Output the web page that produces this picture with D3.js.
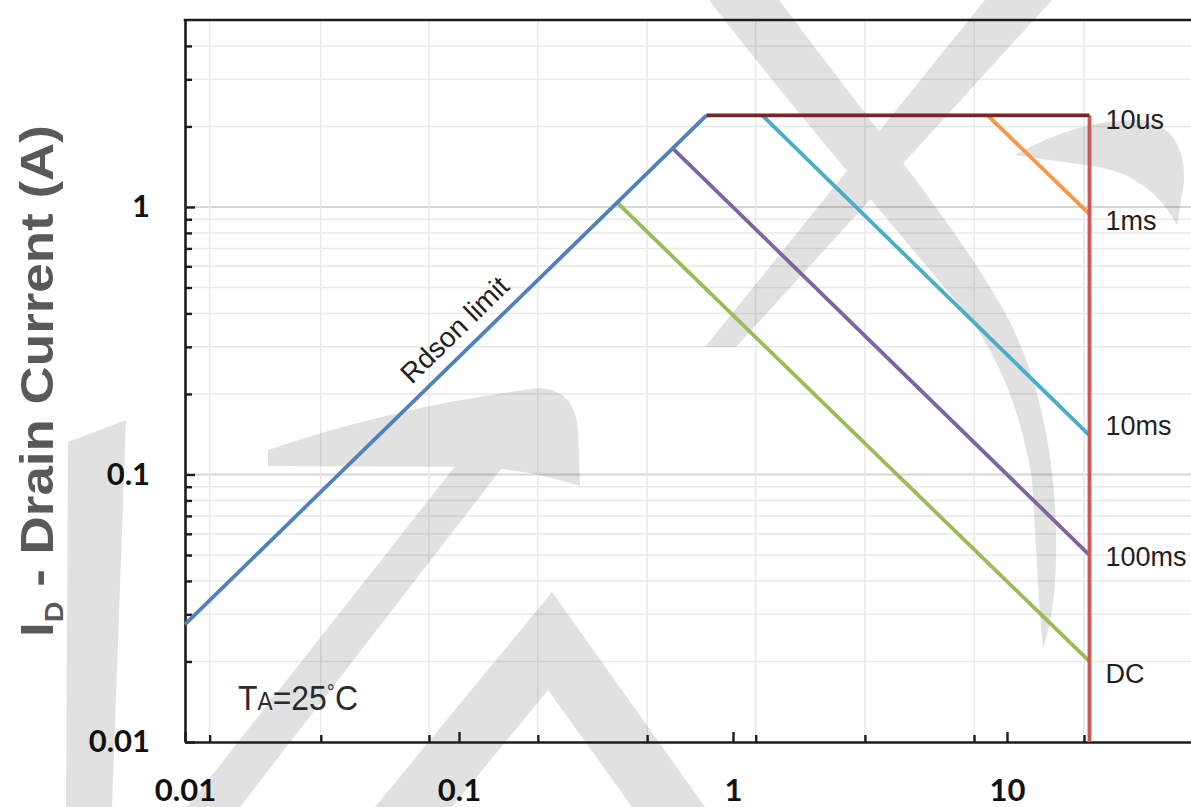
<!DOCTYPE html>
<html>
<head>
<meta charset="utf-8">
<script src="https://cdn.jsdelivr.net/npm/d3@7"></script>
<style>
  html, body { margin: 0; padding: 0; background: #fff; }
  svg { display: block; }
</style>
</head>
<body>
<svg id="chart" width="1191" height="807"></svg>
<script>
// Safe operating area: drain current vs drain-source voltage (log-log)

// Axis ticks
const xMajorTicks = [0.01, 0.1, 1, 10];
const xMajorLabels = ["0.01", "0.1", "1", "10"];
const xMinorTicks = [0.0123, 0.0313, 0.0777, 0.194, 0.486, 1.21, 3.03, 7.58, 19.1];
const yMajorTicks = [0.01, 0.1, 1];
const yMajorLabels = ["0.01", "0.1", "1"];
const yMinorTicks = [0.02, 0.03, 0.04, 0.05, 0.06, 0.07, 0.08, 0.09,
                     0.2, 0.3, 0.4, 0.5, 0.6, 0.7, 0.8, 0.9, 2, 3, 4];

// On-resistance limit (V, A)
const rdsonV = [0.01, 0.8];
const rdsonI = [0.0275, 2.2];

// Pulse-width limit lines, each from a start point to the 20 V boundary
const pulseNames  = ["10us", "1ms", "10ms", "100ms", "DC"];
const limitStartV = [0.8, 8.5, 1.28, 0.605, 0.377];
const limitStartI = [2.2, 2.2, 2.2, 1.65, 1.04];
const limitEndV   = [20, 20, 20, 20, 20];
const limitEndI   = [2.2, 0.94, 0.14, 0.05, 0.02];
const pulseColors = ["#7d2427", "#f79646", "#4bacc6", "#8064a2", "#9bbb59"];

// Maximum drain-source voltage boundary
const vdsMaxV = [20, 20];
const vdsMaxI = [2.2, 0.01];

const W = 1191, H = 807;
const plot = { left: 185, top: 20, bottom: 742 };
const decadePx = 274;

const svg = d3.select("#chart");
const x = d3.scaleLog().domain([0.01, 50]).range([plot.left, plot.left + decadePx * Math.log10(5000)]);
const y = d3.scaleLog().domain([0.01, 5]).range([plot.bottom, plot.top]);

svg.append("rect").attr("width", W).attr("height", H).attr("fill", "#fff");

// Grid
const grid = svg.append("g");
const yGridVals = yMinorTicks.concat([0.1, 1]);
grid.selectAll("line.gh").data(yGridVals).join("line").attr("class", "gh")
  .attr("x1", plot.left).attr("x2", W)
  .attr("y1", d => y(d)).attr("y2", d => y(d))
  .attr("stroke", d => (d === 0.1 || d === 1) ? "#d6d6d6" : "#e9e9e9")
  .attr("stroke-width", d => (d === 0.1 || d === 1) ? 2.2 : 1.5);
grid.selectAll("line.gv").data(xMinorTicks).join("line").attr("class", "gv")
  .attr("x1", d => x(d)).attr("x2", d => x(d))
  .attr("y1", plot.top).attr("y2", plot.bottom)
  .attr("stroke", "#e9e9e9").attr("stroke-width", 1.5);

// Background logo shapes
const logoShapes = [
  "M68,442 L126,420 L112,807 L66,807 Z",
  "M187,807 L240,807 L512,455 L464,455 Z",
  "M268,450 Q400,405 540,388 Q575,390 578,430 L580,486 Q530,470 478,467 L268,466 Z",
  "M375,807 L552,592 L705,807 L632,807 L548,690 L452,807 Z",
  "M985,0 L1052,0 L736,347 L705,347 Z",
  "M709,0 L779,0 C880,135 960,230 1008,318 C1045,390 1058,480 1056,560 C1055,600 1050,630 1043,648 C1038,600 1036,540 1032,480 C1020,400 990,340 955,300 C880,210 790,105 709,0 Z",
  "M1015,155 Q1080,118 1142,120 Q1186,128 1184,182 L1177,225 Q1152,178 1100,167 Q1050,160 1015,155 Z"
];
svg.append("g").attr("opacity", 0.115)
  .selectAll("path").data(logoShapes).join("path")
  .attr("d", d => d).attr("fill", "#000");

// Axes with inward ticks
const axisColor = "#1c1c1c";
function styleAxis(g) {
  g.selectAll(".domain").attr("stroke", axisColor).attr("stroke-width", 2.6);
  g.selectAll(".tick line").attr("stroke", axisColor).attr("stroke-width", 2.4);
  g.selectAll(".tick text")
    .attr("font-family", "Lato, 'Open Sans', sans-serif")
    .attr("font-weight", 700).attr("font-size", 31).attr("fill", "#111");
}

const yMinorAxis = svg.append("g").attr("transform", `translate(${plot.left},0)`)
  .call(d3.axisLeft(y).tickValues(yMinorTicks).tickFormat("").tickSize(-7).tickSizeOuter(0));
yMinorAxis.select(".domain").remove();
styleAxis(yMinorAxis);

const yMajorAxis = svg.append("g").attr("transform", `translate(${plot.left},0)`)
  .call(d3.axisLeft(y).tickValues(yMajorTicks)
    .tickFormat((d, i) => yMajorLabels[i]).tickSize(-10).tickSizeOuter(0).tickPadding(35));
styleAxis(yMajorAxis);

const xMinorAxis = svg.append("g").attr("transform", `translate(0,${plot.bottom})`)
  .call(d3.axisBottom(x).tickValues(xMinorTicks).tickFormat("").tickSize(-7).tickSizeOuter(0));
xMinorAxis.select(".domain").remove();
styleAxis(xMinorAxis);

const xMajorAxis = svg.append("g").attr("transform", `translate(0,${plot.bottom})`)
  .call(d3.axisBottom(x).tickValues(xMajorTicks)
    .tickFormat((d, i) => xMajorLabels[i]).tickSize(-10).tickSizeOuter(0).tickPadding(37));
styleAxis(xMajorAxis);

// Top frame line
svg.append("line")
  .attr("x1", plot.left - 1.3).attr("x2", W)
  .attr("y1", y(5)).attr("y2", y(5))
  .attr("stroke", axisColor).attr("stroke-width", 2.6);

// Limit lines
const line = d3.line().x(d => x(d[0])).y(d => y(d[1]));
const lines = svg.append("g").attr("fill", "none").attr("stroke-width", 3.8).attr("stroke-linecap", "butt");

// Slanted pulse lines first, then the Rdson line and the boundaries on top
[4, 3, 2, 1].forEach(i => {
  lines.append("path")
    .attr("d", line([[limitStartV[i], limitStartI[i]], [limitEndV[i], limitEndI[i]]]))
    .attr("stroke", pulseColors[i]);
});
lines.append("path")
  .attr("d", line(rdsonV.map((v, i) => [v, rdsonI[i]])))
  .attr("stroke", "#4f81bd");
lines.append("path")
  .attr("d", line(vdsMaxV.map((v, i) => [v, vdsMaxI[i]])))
  .attr("stroke", "#cc5855");
lines.append("path")
  .attr("d", line([[limitStartV[0], limitStartI[0]], [limitEndV[0], limitEndI[0]]]))
  .attr("stroke", pulseColors[0]);

// Pulse labels next to the 20 V boundary
const labelNudge = [4, 6, -10, 2, 12];
svg.append("g").selectAll("text").data(pulseNames).join("text")
  .attr("x", (d, i) => x(limitEndV[i]) + 16)
  .attr("y", (d, i) => y(limitEndI[i]) + labelNudge[i])
  .attr("dy", "0.35em")
  .attr("font-family", "'Liberation Sans', Arial, sans-serif")
  .attr("font-size", 27).attr("fill", "#1f1f1f")
  .text(d => d);

// Rdson limit label along the line
{
  const v0 = 0.11;
  const i0 = v0 * rdsonI[0] / rdsonV[0];
  const px = x(v0), py = y(i0);
  const ang = Math.atan2(y(i0 * 10) - py, x(v0 * 10) - px);
  const off = 13;
  const tx = px + off * Math.sin(ang), ty = py - off * Math.cos(ang);
  svg.append("text")
    .attr("transform", `translate(${tx},${ty}) rotate(${ang * 180 / Math.PI})`)
    .attr("text-anchor", "middle")
    .attr("font-family", "'Liberation Sans', Arial, sans-serif")
    .attr("font-size", 28).attr("fill", "#1f1f1f")
    .text("Rdson limit");
}

// Ambient temperature note
{
  const t = svg.append("text")
    .attr("font-family", "'Liberation Sans', Arial, sans-serif")
    .attr("font-size", 35).attr("fill", "#2a2a2a");
  t.append("tspan").text("T");
  t.append("tspan").attr("font-size", 25).text("A");
  t.append("tspan").text("=25");
  t.append("tspan").attr("font-size", 22).attr("dy", -10).text("\u00b0");
  t.append("tspan").attr("dy", 10).text("C");
  const w = t.node().getBBox().width;
  t.attr("transform", `translate(238,710) scale(${120 / w},1)`);
}

// Y axis title
{
  const t = svg.append("text")
    .attr("text-anchor", "middle")
    .attr("font-family", "'Liberation Sans', Arial, sans-serif")
    .attr("font-weight", 700).attr("font-size", 46).attr("fill", "#595959");
  t.append("tspan").text("I");
  t.append("tspan").attr("font-size", 25).attr("dy", 10).text("D");
  t.append("tspan").attr("dy", -10).text(" - Drain Current (A)");
  const w = t.node().getBBox().width;
  t.attr("transform", `translate(53,381) rotate(-90) scale(${512 / w},1)`);
}
</script>
</body>
</html>
